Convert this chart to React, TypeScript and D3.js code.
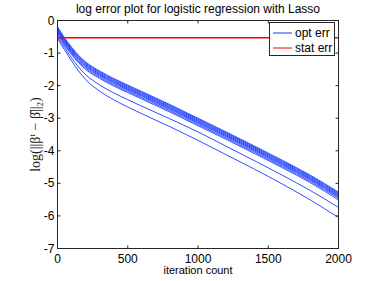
import { useEffect, useRef } from 'react';
import * as d3 from 'd3';

// sampled iterations shared by every run
const iterations = [0, 20, 50, 100, 150, 200, 300, 400, 600, 800, 1000, 1200, 1400, 1600, 1800, 2000];

// log optimisation error, one array per run
const run1 = [-0.19, -0.33, -0.53, -0.82, -1.07, -1.27, -1.55, -1.78, -2.18, -2.58, -3.00, -3.42, -3.85, -4.29, -4.75, -5.27];
const run2 = [-0.22, -0.36, -0.56, -0.85, -1.10, -1.30, -1.58, -1.81, -2.21, -2.61, -3.03, -3.45, -3.88, -4.32, -4.78, -5.30];
const run3 = [-0.25, -0.39, -0.59, -0.88, -1.13, -1.33, -1.61, -1.84, -2.24, -2.64, -3.06, -3.48, -3.91, -4.35, -4.81, -5.33];
const run4 = [-0.28, -0.42, -0.62, -0.91, -1.16, -1.36, -1.64, -1.87, -2.27, -2.67, -3.09, -3.51, -3.94, -4.38, -4.84, -5.36];
const run5 = [-0.31, -0.45, -0.65, -0.94, -1.19, -1.39, -1.67, -1.90, -2.30, -2.70, -3.12, -3.54, -3.97, -4.41, -4.87, -5.39];
const run6 = [-0.34, -0.48, -0.68, -0.97, -1.22, -1.42, -1.70, -1.93, -2.33, -2.73, -3.15, -3.57, -4.00, -4.44, -4.90, -5.42];
const run7 = [-0.38, -0.52, -0.72, -1.01, -1.26, -1.46, -1.74, -1.97, -2.37, -2.77, -3.19, -3.61, -4.04, -4.48, -4.94, -5.46];
const run8 = [-0.42, -0.56, -0.76, -1.05, -1.30, -1.50, -1.78, -2.01, -2.41, -2.81, -3.23, -3.65, -4.08, -4.52, -4.98, -5.51];
const run9 = [-0.50, -0.63, -0.83, -1.15, -1.43, -1.66, -1.98, -2.22, -2.63, -3.02, -3.42, -3.86, -4.30, -4.75, -5.22, -5.74];
const run10 = [-0.55, -0.69, -0.90, -1.24, -1.55, -1.81, -2.17, -2.43, -2.86, -3.26, -3.68, -4.12, -4.56, -5.02, -5.51, -6.05];
const optRuns = [run1, run2, run3, run4, run5, run6, run7, run8, run9, run10];

// statistical error level
const statIterations = [0, 2000];
const statErr = [-0.53, -0.53];

const xTicks = [0, 500, 1000, 1500, 2000];
const yTicks = [0, -1, -2, -3, -4, -5, -6, -7];
const legendLabels = ['opt err', 'stat err'];

const App = () => {
  const svgRef = useRef<SVGSVGElement>(null);

  useEffect(() => {
    if (!svgRef.current) return;
    const width = 374;
    const height = 281;
    const m = { left: 57.5, right: 35.5, top: 20.5, bottom: 32.5 };

    const svg = d3.select(svgRef.current);
    svg.selectAll('*').remove();

    const x = d3.scaleLinear().domain([0, 2000]).range([m.left, width - m.right]);
    const y = d3.scaleLinear().domain([-7, 0]).range([height - m.bottom, m.top]);

    const font = 'Liberation Sans, Arial, sans-serif';
    const axisColor = '#262626';
    const blue = '#1a3aff';

    svg.append('rect')
      .attr('width', width).attr('height', height).attr('fill', '#fff');

    const line = d3.line<[number, number]>()
      .x(d => x(d[0]))
      .y(d => y(d[1]))
      .curve(d3.curveMonotoneX);

    const plot = svg.append('g');

    optRuns.forEach(run => {
      plot.append('path')
        .datum(iterations.map((it, i) => [it, run[i]] as [number, number]))
        .attr('fill', 'none')
        .attr('stroke', blue)
        .attr('stroke-opacity', 0.9)
        .attr('stroke-width', 1)
        .attr('d', line);
    });

    plot.append('path')
      .datum(statIterations.map((it, i) => [it, statErr[i]] as [number, number]))
      .attr('fill', 'none')
      .attr('stroke', '#ff0000')
      .attr('stroke-width', 1.4)
      .attr('d', line);

    // box
    const [x0, x1] = x.range();
    const [y0, y1] = y.range();
    svg.append('rect')
      .attr('x', x0).attr('y', y1)
      .attr('width', x1 - x0).attr('height', y0 - y1)
      .attr('fill', 'none').attr('stroke', axisColor).attr('stroke-width', 1);

    const tick = 3;
    const ticks = svg.append('g').attr('stroke', axisColor).attr('stroke-width', 1);
    xTicks.forEach(t => {
      ticks.append('line').attr('x1', x(t)).attr('x2', x(t)).attr('y1', y0).attr('y2', y0 - tick);
      ticks.append('line').attr('x1', x(t)).attr('x2', x(t)).attr('y1', y1).attr('y2', y1 + tick);
    });
    yTicks.forEach(t => {
      ticks.append('line').attr('x1', x0).attr('x2', x0 + tick).attr('y1', y(t)).attr('y2', y(t));
      ticks.append('line').attr('x1', x1).attr('x2', x1 - tick).attr('y1', y(t)).attr('y2', y(t));
    });

    svg.append('g').selectAll('text').data(xTicks).join('text')
      .attr('x', d => x(d)).attr('y', y0 + 14)
      .attr('text-anchor', 'middle')
      .style('font-family', font).style('font-size', '12px').attr('fill', '#000')
      .text(d => String(d));

    svg.append('g').selectAll('text').data(yTicks).join('text')
      .attr('x', x0 - 3).attr('y', d => y(d) + 4)
      .attr('text-anchor', 'end')
      .style('font-family', font).style('font-size', '12px').attr('fill', '#000')
      .text(d => (d < 0 ? '-' + Math.abs(d) : String(d)));

    // title and x label
    svg.append('text')
      .attr('x', (x0 + x1) / 2).attr('y', 13)
      .attr('text-anchor', 'middle')
      .style('font-family', font).style('font-size', '12px')
      .text('log error plot for logistic regression with Lasso');

    svg.append('text')
      .attr('x', (x0 + x1) / 2).attr('y', 274)
      .attr('text-anchor', 'middle')
      .style('font-family', font).style('font-size', '11px')
      .text('iteration count');

    // y label, latex-ish
    const yl = svg.append('text')
      .attr('transform', `translate(40,${(y0 + y1) / 2}) rotate(-90)`)
      .attr('text-anchor', 'middle')
      .attr('fill', '#222')
      .style('font-family', 'Liberation Serif, serif').style('font-size', '14px');
    yl.append('tspan').text('log(||β');
    yl.append('tspan').attr('dy', -5).style('font-size', '9px').text('t');
    yl.append('tspan').attr('dy', 5).text(' − β̂||');
    yl.append('tspan').attr('dy', 3).style('font-size', '9px').text('2');
    yl.append('tspan').attr('dy', -3).text(')');

    // legend
    const lg = svg.append('g');
    lg.append('rect')
      .attr('x', 269.5).attr('y', 22.5).attr('width', 65).attr('height', 33)
      .attr('fill', '#fff').attr('stroke', axisColor).attr('stroke-width', 1);
    const legendColors = [blue, '#ff0000'];
    legendLabels.forEach((label, i) => {
      const ly = 33 + i * 15;
      lg.append('line')
        .attr('x1', 273).attr('x2', 292).attr('y1', ly).attr('y2', ly)
        .attr('stroke', legendColors[i]).attr('stroke-width', 1);
      lg.append('text')
        .attr('x', 295).attr('y', ly + 4)
        .style('font-family', font).style('font-size', '12px')
        .text(label);
    });
  }, []);

  return (
    <svg
      ref={svgRef}
      width={374}
      height={281}
      style={{ position: 'absolute', left: 0, top: 0, display: 'block' }}
    />
  );
};

export default App;
